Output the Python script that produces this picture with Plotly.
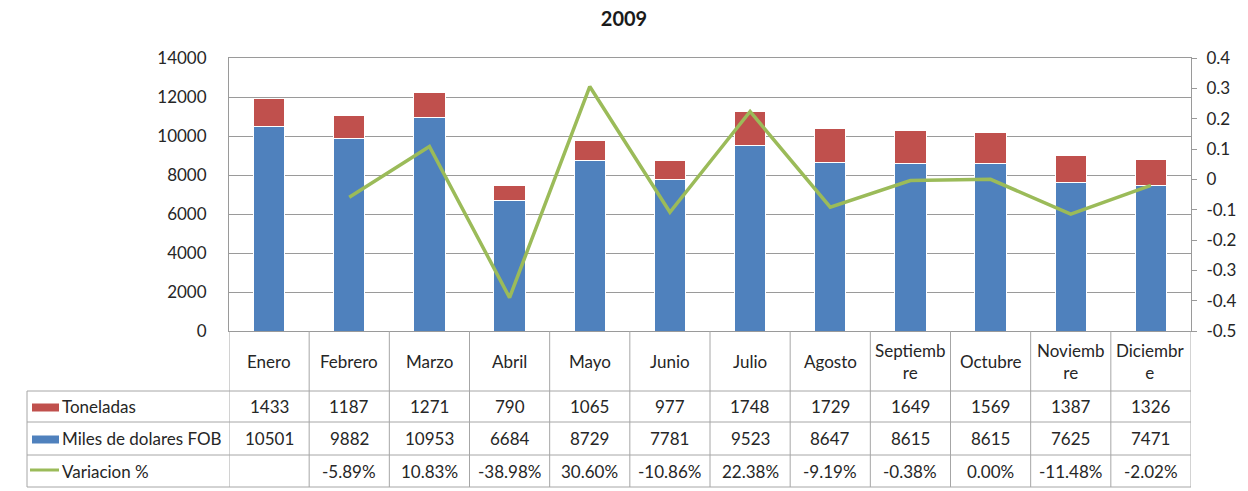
import plotly.graph_objects as go

months = ["Enero", "Febrero", "Marzo", "Abril", "Mayo", "Junio", "Julio", "Agosto",
          "Septiembre", "Octubre", "Noviembre", "Diciembre"]
month_labels = ["Enero", "Febrero", "Marzo", "Abril", "Mayo", "Junio", "Julio", "Agosto",
                "Septiemb<br>re", "Octubre", "Noviemb<br>re", "Diciembr<br>e"]
toneladas = [1433, 1187, 1271, 790, 1065, 977, 1748, 1729, 1649, 1569, 1387, 1326]
miles_fob = [10501, 9882, 10953, 6684, 8729, 7781, 9523, 8647, 8615, 8615, 7625, 7471]
variacion = [None, -0.0589, 0.1083, -0.3898, 0.3060, -0.1086, 0.2238, -0.0919,
             -0.0038, 0.0000, -0.1148, -0.0202]
variacion_text = ["", "-5.89%", "10.83%", "-38.98%", "30.60%", "-10.86%", "22.38%",
                  "-9.19%", "-0.38%", "0.00%", "-11.48%", "-2.02%"]
left_ticks = [0, 2000, 4000, 6000, 8000, 10000, 12000, 14000]
right_ticks = [-0.5, -0.4, -0.3, -0.2, -0.1, 0, 0.1, 0.2, 0.3, 0.4]
right_tick_text = ["-0.5", "-0.4", "-0.3", "-0.2", "-0.1", "0", "0.1", "0.2", "0.3", "0.4"]

BLUE = "#4F81BD"
RED = "#C0504D"
GREEN = "#9BBB59"
FONT = "Lato"
TXT = "#262626"
FS = 17

W, H = 1248, 491
PL, PR, PT, PB = 229, 1191, 58, 331  # plot area in pixels


def py(p):
    return (PB - p) / (PB - PT)


def px(p):
    return (p - PL) / (PR - PL)


fig = go.Figure()
fig.add_trace(go.Bar(x=months, y=miles_fob, name="Miles de dolares FOB",
                     marker=dict(color=BLUE, line=dict(color="white", width=1)),
                     width=0.39))
fig.add_trace(go.Bar(x=months, y=toneladas, name="Toneladas",
                     marker=dict(color=RED, line=dict(color="white", width=1)),
                     width=0.39))
fig.add_trace(go.Scatter(x=months, y=variacion, name="Variacion %", yaxis="y2",
                         mode="lines", line=dict(color=GREEN, width=3.5),
                         connectgaps=False))

shapes = []
annotations = []
GRID = "#9a9a9a"
TBL = "#a6a6a6"

rows_y = [391, 422, 455, 487]
for i in range(13):
    shapes.append(dict(type="line", xref="x", yref="paper", x0=i - 0.5, x1=i - 0.5,
                       y0=py(331), y1=py(487), line=dict(color=TBL, width=1)))
shapes.append(dict(type="line", xref="paper", yref="paper", x0=px(27), x1=px(27),
                   y0=py(391), y1=py(487), line=dict(color=TBL, width=1)))
for r in rows_y:
    shapes.append(dict(type="line", xref="paper", yref="paper", x0=px(27), x1=1,
                       y0=py(r), y1=py(r), line=dict(color=TBL, width=1)))

for i, m in enumerate(month_labels):
    annotations.append(dict(x=i, y=py(361), xref="x", yref="paper", text=m,
                            showarrow=False, font=dict(family=FONT, size=FS, color=TXT),
                            xanchor="center", yanchor="middle"))

row_centers = [406.5, 438.5, 471]
row_vals = [[str(v) for v in toneladas], [str(v) for v in miles_fob], variacion_text]
for rc, vals in zip(row_centers, row_vals):
    for i, t in enumerate(vals):
        if t:
            annotations.append(dict(x=i, y=py(rc), xref="x", yref="paper", text=t,
                                    showarrow=False,
                                    font=dict(family=FONT, size=FS, color=TXT),
                                    xanchor="center", yanchor="middle"))

legend_names = ["Toneladas", "Miles de dolares FOB", "Variacion %"]
for rc, name, col in zip(row_centers, legend_names, [RED, BLUE, GREEN]):
    if col == GREEN:
        shapes.append(dict(type="line", xref="paper", yref="paper", x0=px(30), x1=px(59),
                           y0=py(rc - 1), y1=py(rc - 1), line=dict(color=col, width=3)))
    else:
        shapes.append(dict(type="rect", xref="paper", yref="paper", x0=px(32), x1=px(59),
                           y0=py(rc - 3), y1=py(rc + 5), line=dict(width=0), fillcolor=col))
    annotations.append(dict(x=px(60), y=py(rc), xref="paper", yref="paper", text=name,
                            showarrow=False, font=dict(family=FONT, size=FS, color=TXT),
                            xanchor="left", yanchor="middle"))

fig.update_layout(
    width=W, height=H,
    margin=dict(l=PL, r=W - PR, t=PT, b=H - PB, pad=0),
    barmode="stack",
    plot_bgcolor="white", paper_bgcolor="white",
    showlegend=False,
    title=dict(text="<b>2009</b>", x=624 / W, xanchor="center", y=1 - 19 / H,
               yanchor="middle", font=dict(family=FONT, size=20, color="#1a1a1a")),
    font=dict(family=FONT, size=FS, color=TXT),
    xaxis=dict(showticklabels=False, showgrid=False, zeroline=False,
               showline=True, linecolor=GRID, linewidth=1, mirror=True,
               range=[-0.5, 11.5], ticks=""),
    yaxis=dict(range=[0, 14000], tickvals=left_ticks, ticktext=[str(v) for v in left_ticks],
               showgrid=True, gridcolor=GRID, gridwidth=1, zeroline=False,
               showline=True, linecolor=GRID, linewidth=1, ticks="",
               ticklabelstandoff=18,
               tickfont=dict(family=FONT, size=FS, color=TXT)),
    yaxis2=dict(range=[-0.5, 0.4], overlaying="y", side="right",
                tickvals=right_ticks, ticktext=right_tick_text,
                showgrid=False, zeroline=False, showline=True, linecolor=GRID,
                ticks="outside", ticklen=5, tickcolor=GRID,
                ticklabelstandoff=6,
                tickfont=dict(family=FONT, size=FS, color=TXT)),
    shapes=shapes,
    annotations=annotations,
)

fig.write_html("out.html",
               config={"displayModeBar": False},
               post_script="document.body.style.margin='0px';"
                           "document.body.style.padding='0px';"
                           "document.body.style.overflow='hidden';")
